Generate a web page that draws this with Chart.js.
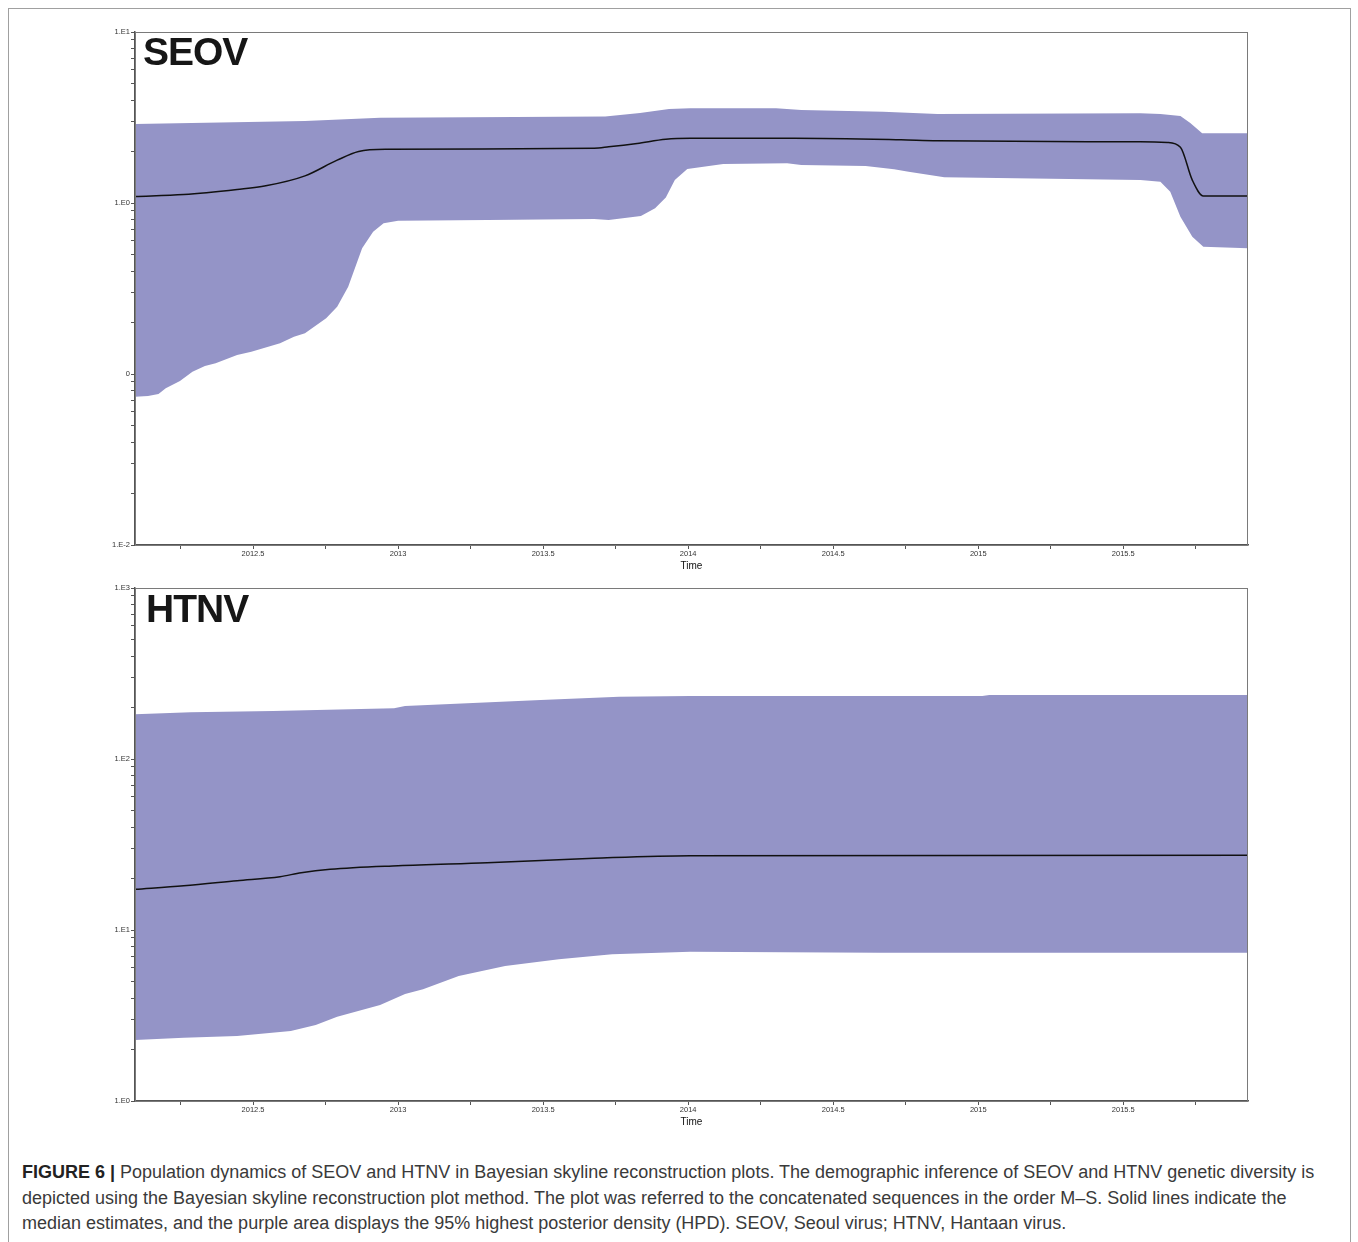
<!DOCTYPE html>
<html>
<head>
<meta charset="utf-8">
<title>Figure 6 - Bayesian skyline plots</title>
<script src="https://cdn.jsdelivr.net/npm/chart.js@4.4.1/dist/chart.umd.min.js"></script>
<style>
	body { margin: 0; background: #fff; font-family: "Liberation Sans", Arial, sans-serif; }
	#page { position: relative; width: 1358px; height: 1242px; overflow: hidden; background: #fff; }
	#frame { position: absolute; left: 8px; top: 8px; width: 1341px; height: 1300px; border: 1px solid #a0a0a0; }
	.panel { position: absolute; left: 0; width: 1358px; height: 580px; }
	.tag { position: absolute; font-weight: bold; font-size: 39px; line-height: 39px; letter-spacing: -1px; color: #161616; }
	#caption { position: absolute; left: 22px; top: 1160px; font-size: 18px; line-height: 25.5px; color: #3a3a3a; white-space: nowrap; }
	#caption b { color: #222; }
</style>
</head>
<body>
<div id="page">
	<div id="frame"></div>
	<div class="panel" style="top:0px"><canvas id="seovChart" width="1358" height="580"></canvas></div>
	<div class="panel" style="top:556px"><canvas id="htnvChart" width="1358" height="580"></canvas></div>
	<div class="tag" style="left:143px; top:32px">SEOV</div>
	<div class="tag" style="left:146px; top:589px">HTNV</div>
	<div id="caption">
		<b>FIGURE 6 |</b> Population dynamics of SEOV and HTNV in Bayesian skyline reconstruction plots. The demographic inference of SEOV and HTNV genetic diversity is<br>
		depicted using the Bayesian skyline reconstruction plot method. The plot was referred to the concatenated sequences in the order M&ndash;S. Solid lines indicate the<br>
		median estimates, and the purple area displays the 95% highest posterior density (HPD). SEOV, Seoul virus; HTNV, Hantaan virus.
	</div>
</div>
<script>
'use strict';

(function () {

	// time axis (years)
	var timeMin = 2012.093;
	var timeMax = 2015.93;
	var xTickValues = [2012.25, 2012.5, 2012.75, 2013, 2013.25, 2013.5, 2013.75, 2014, 2014.25, 2014.5, 2014.75, 2015, 2015.25, 2015.5, 2015.75];
	var xTickLabels = ['', '2012.5', '', '2013', '', '2013.5', '', '2014', '', '2014.5', '', '2015', '', '2015.5', ''];

	// SEOV - 95% HPD upper
	var seovUpperTime = [2012.093, 2012.679, 2012.938, 2013.714, 2013.834, 2013.934, 2014.007, 2014.303, 2014.390, 2014.672, 2014.859, 2015.559, 2015.628, 2015.697, 2015.731, 2015.772, 2015.93];
	var seovUpper = [2.90, 3.02, 3.15, 3.20, 3.36, 3.55, 3.58, 3.58, 3.50, 3.42, 3.32, 3.35, 3.32, 3.23, 2.94, 2.56, 2.56];
	// SEOV - median
	var seovMedianTime = [2012.093, 2012.261, 2012.445, 2012.544, 2012.679, 2012.790, 2012.864, 2012.962, 2013.676, 2013.726, 2013.824, 2013.923, 2014.007, 2014.366, 2014.734, 2014.859, 2015.559, 2015.652, 2015.697, 2015.738, 2015.776, 2015.93];
	var seovMedian = [1.09, 1.12, 1.20, 1.26, 1.44, 1.78, 2.00, 2.06, 2.09, 2.13, 2.23, 2.36, 2.39, 2.39, 2.34, 2.31, 2.28, 2.26, 2.12, 1.36, 1.10, 1.10];
	// SEOV - 95% HPD lower
	var seovLowerTime = [2012.093, 2012.138, 2012.174, 2012.199, 2012.248, 2012.291, 2012.334, 2012.371, 2012.445, 2012.494, 2012.593, 2012.641, 2012.679, 2012.752, 2012.790, 2012.828, 2012.876, 2012.914, 2012.950, 2013.000, 2013.307, 2013.676, 2013.726, 2013.837, 2013.886, 2013.923, 2013.954, 2013.997, 2014.121, 2014.341, 2014.390, 2014.612, 2014.710, 2014.760, 2014.883, 2015.559, 2015.628, 2015.662, 2015.697, 2015.738, 2015.776, 2015.93];
	var seovLower = [0.0737, 0.0744, 0.0764, 0.0825, 0.0910, 0.1031, 0.1114, 0.1155, 0.1292, 0.1351, 0.1512, 0.1653, 0.1730, 0.2118, 0.2475, 0.324, 0.543, 0.680, 0.761, 0.788, 0.795, 0.806, 0.795, 0.839, 0.931, 1.077, 1.363, 1.580, 1.691, 1.707, 1.668, 1.646, 1.574, 1.524, 1.413, 1.363, 1.332, 1.164, 0.832, 0.635, 0.555, 0.543];
	var seovYTicks = [0.01, 0.1, 1, 10];
	var seovYLabels = ['1.E-2', '0', '1.E0', '1.E1'];

	// HTNV - 95% HPD upper
	var htnvUpperTime = [2012.093, 2012.285, 2012.569, 2012.986, 2013.024, 2013.492, 2013.762, 2014.007, 2015.014, 2015.038, 2015.93];
	var htnvUpper = [182.5, 187.6, 190.9, 198.0, 204.2, 221.3, 231.4, 233.6, 233.6, 236.8, 236.8];
	// HTNV - median
	var htnvMedianTime = [2012.093, 2012.261, 2012.445, 2012.593, 2012.666, 2012.766, 2013.000, 2013.307, 2013.676, 2014.007, 2015.93];
	var htnvMedian = [17.30, 18.16, 19.43, 20.50, 21.63, 22.65, 23.77, 24.75, 26.27, 27.20, 27.35];
	// HTNV - 95% HPD lower
	var htnvLowerTime = [2012.093, 2012.261, 2012.445, 2012.630, 2012.716, 2012.790, 2012.938, 2013.024, 2013.086, 2013.209, 2013.369, 2013.554, 2013.738, 2014.007, 2014.662, 2015.93];
	var htnvLower = [2.274, 2.345, 2.400, 2.567, 2.783, 3.112, 3.643, 4.224, 4.500, 5.383, 6.159, 6.741, 7.210, 7.467, 7.367, 7.367];
	var htnvYTicks = [1, 10, 100, 1000];
	var htnvYLabels = ['1.E0', '1.E1', '1.E2', '1.E3'];

	var bandColor = 'rgb(148,148,199)';
	var axisColor = '#555';
	var tickFont = { family: '"Liberation Sans", Arial, sans-serif', size: 7.5 };

	function toPoints(times, values) {
		return times.map(function (t, i) { return { x: t, y: values[i] }; });
	}

	// log ticks: every 1..9 multiple of each decade, only decades get a label
	function logTicks(decades) {
		var list = [];
		for (var d = 0; d < decades.length; d++) {
			list.push(decades[d]);
			if (d < decades.length - 1) {
				for (var m = 2; m <= 9; m++) list.push(decades[d] * m);
			}
		}
		return list;
	}

	var boxPlugin = {
		id: 'box',
		afterDraw: function (chart) {
			var a = chart.chartArea;
			var ctx = chart.ctx;
			ctx.save();
			ctx.strokeStyle = '#7a7a7a';
			ctx.lineWidth = 1;
			ctx.strokeRect(a.left + 0.5, a.top + 0.5, a.right - a.left - 1, a.bottom - a.top);
			ctx.restore();
		}
	};

	function makeChart(id, up, med, low, yTicks, yLabels) {
		var ctx = document.getElementById(id).getContext('2d');
		var allTicks = logTicks(yTicks);
		return new Chart(ctx, {
			type: 'line',
			data: {
				datasets: [
					// band: upper filled down to the lower edge (next dataset)
					{ data: up, fill: '+1', backgroundColor: bandColor, borderWidth: 0, pointRadius: 0, tension: 0, order: 2 },
					{ data: low, fill: false, borderWidth: 0, borderColor: bandColor, pointRadius: 0, tension: 0, order: 3 },
					// median drawn last, on top of the band
					{ data: med, fill: false, borderColor: '#111', borderWidth: 1.5, pointRadius: 0, cubicInterpolationMode: 'monotone', order: 0 }
				]
			},
			options: {
				responsive: false,
				animation: false,
				events: [],
				layout: { padding: { top: 32, right: 110, left: 0, bottom: 0 } },
				plugins: { legend: { display: false }, tooltip: { enabled: false } },
				scales: {
					x: {
						type: 'linear',
						min: timeMin,
						max: timeMax,
						afterFit: function (scale) { scale.height = 35; },
						afterBuildTicks: function (scale) {
							scale.ticks = xTickValues.map(function (v) { return { value: v }; });
						},
						grid: { drawOnChartArea: false, tickLength: 4, tickColor: axisColor, tickWidth: 1 },
						border: { color: axisColor, width: 1.5 },
						ticks: {
							autoSkip: false, maxRotation: 0, padding: 0, color: '#333', font: tickFont,
							callback: function (value, index) { return xTickLabels[index]; }
						},
						title: { display: true, text: 'Time', color: '#111', font: { family: '"Liberation Sans", Arial, sans-serif', size: 10 }, padding: { top: 0, bottom: 8 } }
					},
					y: {
						type: 'logarithmic',
						min: yTicks[0],
						max: yTicks[yTicks.length - 1],
						afterFit: function (scale) { scale.width = 135; },
						afterBuildTicks: function (scale) {
							scale.ticks = allTicks.map(function (v) { return { value: v }; });
						},
						grid: { drawOnChartArea: false, tickLength: 4, tickColor: axisColor, tickWidth: 1 },
						border: { color: axisColor, width: 1.5 },
						ticks: {
							autoSkip: false, padding: 1, color: '#333', font: tickFont,
							callback: function (value) {
								var k = yTicks.indexOf(value);
								return k >= 0 ? yLabels[k] : '';
							}
						}
					}
				}
			},
			plugins: [boxPlugin]
		});
	}

	makeChart('seovChart', toPoints(seovUpperTime, seovUpper), toPoints(seovMedianTime, seovMedian), toPoints(seovLowerTime, seovLower), seovYTicks, seovYLabels);
	makeChart('htnvChart', toPoints(htnvUpperTime, htnvUpper), toPoints(htnvMedianTime, htnvMedian), toPoints(htnvLowerTime, htnvLower), htnvYTicks, htnvYLabels);
})();
</script>
</body>
</html>
